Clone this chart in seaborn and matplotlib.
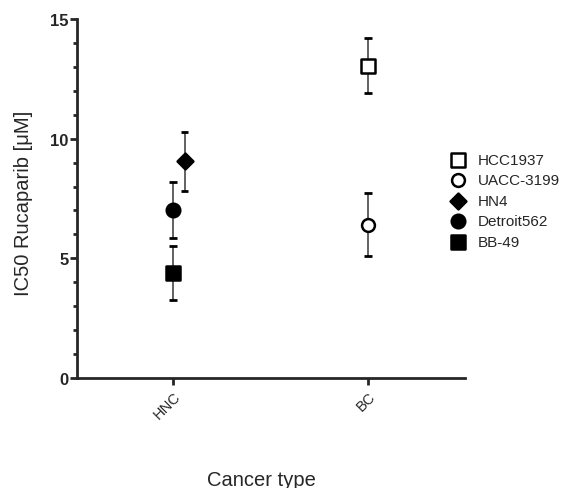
import numpy as np
import pandas as pd
import seaborn as sns
import matplotlib.pyplot as plt
from matplotlib.ticker import MultipleLocator

# cell lines, cancer type and IC50 (mean +/- error)
cell_lines = ['HCC1937', 'UACC-3199', 'HN4', 'Detroit562', 'BB-49']
cancer_types = ['BC', 'BC', 'HNC', 'HNC', 'HNC']
ic50 = [13.05, 6.40, 9.05, 7.00, 4.38]
ic50_err = [1.15, 1.32, 1.25, 1.17, 1.12]
categories = ['HNC', 'BC']

df = pd.DataFrame({'line': cell_lines, 'type': cancer_types,
                   'ic50': ic50, 'err': ic50_err})
df['x'] = df['type'].map({c: i for i, c in enumerate(categories)})
# small horizontal shift for HN4 so it doesn't sit on top of Detroit562
df.loc[df['line'] == 'HN4', 'x'] += 0.06

markers = {'HCC1937': 's', 'UACC-3199': 'o', 'HN4': 'D', 'Detroit562': 'o', 'BB-49': 's'}
faces = {'HCC1937': 'white', 'UACC-3199': 'white', 'HN4': 'black', 'Detroit562': 'black', 'BB-49': 'black'}
sizes = {'HCC1937': 90, 'UACC-3199': 85, 'HN4': 65, 'Detroit562': 95, 'BB-49': 110}

sns.set_style('ticks')
plt.rcParams['font.family'] = ['Liberation Sans', 'DejaVu Sans']

fig = plt.figure(figsize=(5.64, 4.89), dpi=100)
ax = fig.add_axes([0.1365, 0.225, 0.688, 0.734])

# error bars: grey stem, black caps
for _, row in df.iterrows():
    ax.errorbar(row['x'], row['ic50'], yerr=row['err'], fmt='none',
                ecolor='#555555', elinewidth=1.3, capsize=0, zorder=2)
    for yv in (row['ic50'] + row['err'], row['ic50'] - row['err']):
        ax.plot([row['x'] - 0.019, row['x'] + 0.019], [yv, yv],
                color='black', lw=2, zorder=2, solid_capstyle='butt')

for name in cell_lines:
    sub = df[df['line'] == name]
    sns.scatterplot(data=sub, x='x', y='ic50', marker=markers[name], s=sizes[name],
                    facecolor=faces[name], edgecolor='black', linewidth=1.8,
                    label=name, ax=ax, zorder=3)

ax.set_xlim(-0.492, 1.497)
ax.set_ylim(0, 15)
ax.set_xticks(range(len(categories)))
ax.set_xticklabels(categories, rotation=45, ha='right', rotation_mode='anchor', fontsize=10.5)
ax.yaxis.set_major_locator(MultipleLocator(5))
ax.yaxis.set_minor_locator(MultipleLocator(1))
for lab in ax.get_yticklabels():
    lab.set_fontweight('bold')
    lab.set_fontsize(12)

ax.tick_params(axis='y', which='major', length=5, width=2, pad=1)
ax.tick_params(axis='y', which='minor', length=3, width=2)
ax.tick_params(axis='x', which='major', length=5, width=2, pad=3)

sns.despine(ax=ax)
for s in ['left', 'bottom']:
    ax.spines[s].set_linewidth(2)

ax.set_xlabel('Cancer type', fontsize=14.5)
ax.set_ylabel('IC50 Rucaparib [μM]', fontsize=14.5)
ax.xaxis.set_label_coords(0.476, -0.256)
ax.yaxis.set_label_coords(-0.114, 0.49)

ax.legend(loc='upper left', bbox_to_anchor=(0.798, 0.685), bbox_transform=fig.transFigure,
          frameon=False, fontsize=11, handlelength=1.0, handletextpad=0.8,
          labelspacing=0.42, borderpad=0, borderaxespad=0)

plt.savefig('out.png', dpi=100)
